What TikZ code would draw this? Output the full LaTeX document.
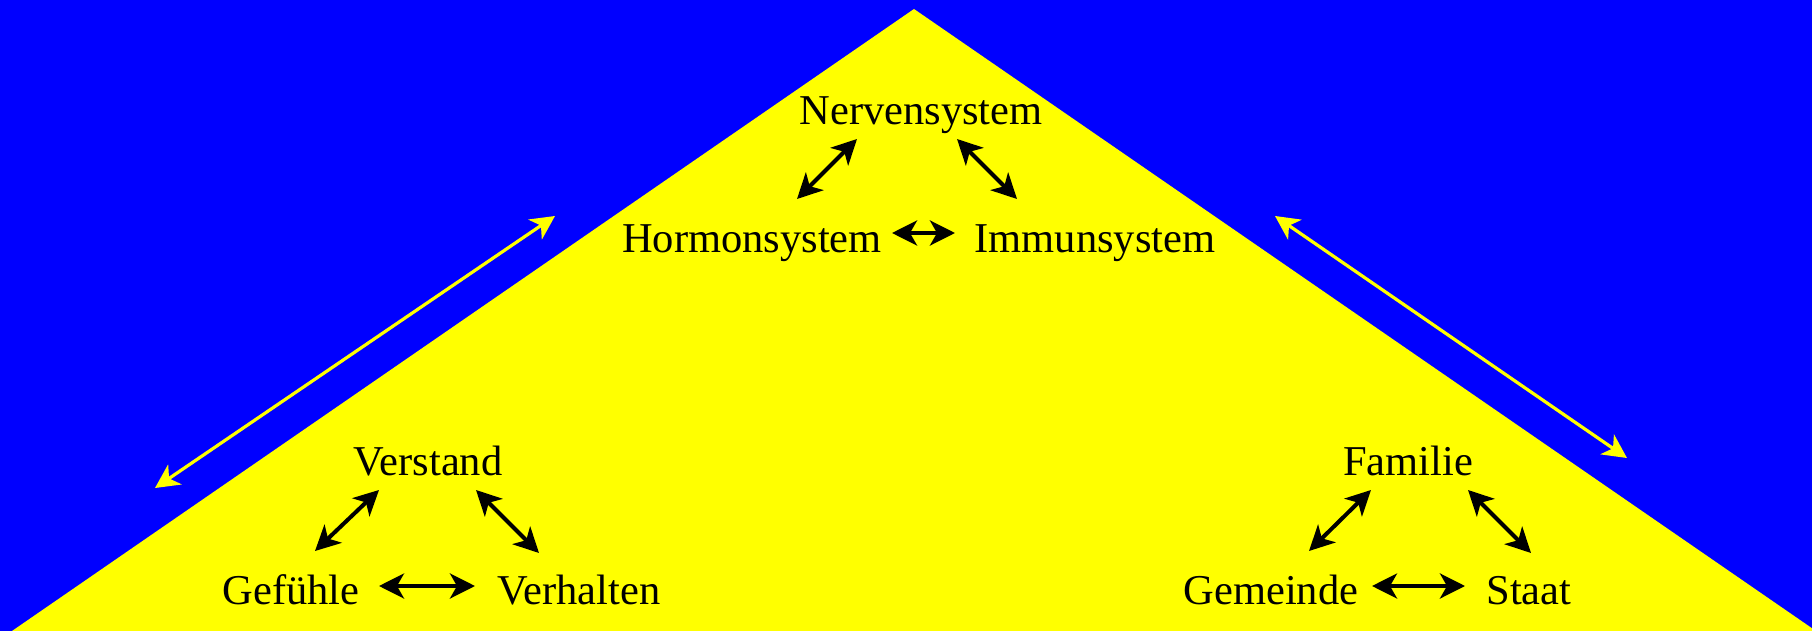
\documentclass[tikz,border=0pt]{standalone}
\usepackage{fontspec}
\setmainfont{Liberation Serif}
\usetikzlibrary{arrows.meta}
\definecolor{bgblue}{HTML}{0000FF}
\definecolor{triyellow}{HTML}{FFFF00}
\begin{document}
\begin{tikzpicture}[x=1pt,y=-1pt,
  lbl/.style={anchor=base,inner sep=0pt,font=\fontsize{42.5}{50}\selectfont},
  blk/.style={{Stealth[length=25pt,width=25pt,inset=7pt]}-{Stealth[length=25pt,width=25pt,inset=7pt]},line width=4pt,black},
  ylw/.style={{Stealth[length=24pt,width=24pt,inset=7pt]}-{Stealth[length=24pt,width=24pt,inset=7pt]},line width=3.2pt,triyellow}]
\useasboundingbox (0,0) rectangle (1812,631);
\clip (0,0) rectangle (1812,631);
\fill[bgblue] (0,0) rectangle (1812,631);
\fill[triyellow] (12,631) -- (914,9) -- (1816,631) -- cycle;
% labels
\node[lbl] (nerv) at (921,125) {Nervensystem};
\node[lbl] (horm) at (752,252) {Hormonsystem};
\node[lbl] (immu) at (1095,252) {Immunsystem};
\node[lbl] (vers) at (428,475) {Verstand};
\node[lbl] (gefu) at (291,604) {Gefühle};
\node[lbl] (verh) at (579,604) {Verhalten};
\node[lbl] (fami) at (1408,475) {Familie};
\node[lbl] (geme) at (1271,604) {Gemeinde};
\node[lbl] (staa) at (1529,604) {Staat};
% arrow end points
\coordinate (a1) at (857,139); \coordinate (a2) at (797,199);
\coordinate (b1) at (957,139); \coordinate (b2) at (1017,199);
\coordinate (c1) at (892,233); \coordinate (c2) at (955,233);
\coordinate (d1) at (379,490); \coordinate (d2) at (315,551);
\coordinate (e1) at (476,490); \coordinate (e2) at (539,553);
\coordinate (f1) at (379,586); \coordinate (f2) at (475,586);
\coordinate (g1) at (1371,490); \coordinate (g2) at (1309,551);
\coordinate (h1) at (1468,490); \coordinate (h2) at (1531,553);
\coordinate (i1) at (1372,586); \coordinate (i2) at (1465,586);
\coordinate (y1) at (555,216); \coordinate (y2) at (155,488);
\coordinate (z1) at (1275,216); \coordinate (z2) at (1627,458);
\draw[blk] (a1) -- (a2);
\draw[blk] (b1) -- (b2);
\draw[blk] (c1) -- (c2);
\draw[blk] (d1) -- (d2);
\draw[blk] (e1) -- (e2);
\draw[blk] (f1) -- (f2);
\draw[blk] (g1) -- (g2);
\draw[blk] (h1) -- (h2);
\draw[blk] (i1) -- (i2);
\draw[ylw] (y1) -- (y2);
\draw[ylw] (z1) -- (z2);
\end{tikzpicture}
\end{document}
